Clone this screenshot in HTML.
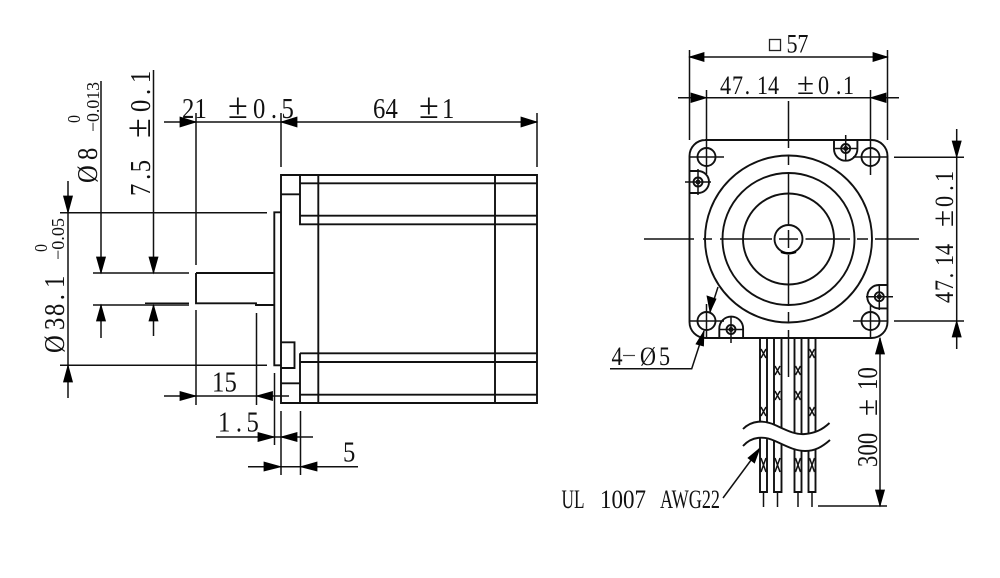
<!DOCTYPE html>
<html><head><meta charset="utf-8"><style>
html,body{margin:0;padding:0;background:#fff;width:1000px;height:578px;overflow:hidden}
svg{display:block}
text{font-family:"Liberation Serif","Noto Serif CJK SC",serif;fill:#111;stroke:none}
.t{font-size:29px}.m{font-size:26px}.s{font-size:18px}.p{font-size:36px}.pm{font-size:31px}
.b{fill:none;stroke:#111;stroke-width:1.9}
.d{fill:none;stroke:#111;stroke-width:1.5}
.a{fill:#000;stroke:#000;stroke-width:.8}
</style></head><body>
<svg width="1000" height="578" viewBox="0 0 1000 578" xmlns="http://www.w3.org/2000/svg">
<rect width="1000" height="578" fill="#fff"/>
<!-- side view body -->
<path class="b" d="M281 175H537V403H281ZM300 175V224.300H537M300 183.300H537M300 215.700H537M318.300 175V403M495 175V403M300 353.300H537M300 362H537M300 394.700H537M300 353.300V403M281 194.300H300M281 383.300H300M281 212.300H274.300V365.300H281M281 342.300H294.500V368H281"/>
<path class="b" d="M196 273H274.300M196 273V303.300H256V305H274.300"/>
<!-- side view dims -->
<path class="d" d="M164 122H537M281 113V167M537 113V167M196 113V265M196 310V405M60 212.700H267M60 365.300H267M68 181V398M101 81V273M101 305V338M153.500 70V273M153.500 305V336M93 273H189M93 305H189M145 303.300H189M164 396H289M256.500 313V405M216 437H313M274.500 373V445M281 411V475M300.500 411V475M248 466.700H358"/>
<polygon class="a" points="196,122 180,117 180,127"/><polygon class="a" points="281,122 297,117 297,127"/><polygon class="a" points="537,122 521,117 521,127"/>
<polygon class="a" points="68,212.700 63.500,196 72.500,196"/><polygon class="a" points="68,365.300 63.500,382 72.500,382"/>
<polygon class="a" points="101,273 96.500,257 105.500,257"/><polygon class="a" points="153.500,273 149,257 158,257"/>
<polygon class="a" points="101,305 96.500,321 105.500,321"/><polygon class="a" points="153.500,305 149,321 158,321"/>
<polygon class="a" points="196,396 180,391.500 180,400.500"/><polygon class="a" points="256.500,396 272.500,391.500 272.500,400.500"/>
<polygon class="a" points="274.500,437 258,432.500 258,441.500"/><polygon class="a" points="281,437 297,432.500 297,441.500"/>
<polygon class="a" points="281,466.700 264,462 264,471"/><polygon class="a" points="300.500,466.700 317,462 317,471"/>
<!-- side texts -->
<text class="t" transform="translate(182,118) scale(.85,1)" x="0 14.700">21</text>
<text class="p" x="228" y="118">±</text>
<text class="t" transform="translate(253,118) scale(.85,1)" x="0 21 33.500">0.5</text>
<text class="t" transform="translate(373,118) scale(.85,1)" x="0 14.700">64</text>
<text class="p" x="419" y="118">±</text>
<text class="t" transform="translate(442,118) scale(.85,1)">1</text>
<text class="t" transform="translate(212,391.700) scale(.85,1)" x="0 14.700">15</text>
<text class="t" transform="translate(218,431.700) scale(.85,1)" x="0 21 33.500">1.5</text>
<text class="t" transform="translate(343,461.700) scale(.85,1)">5</text>
<text class="t" transform="translate(150,196) rotate(-90) scale(.85,1)" x="0 19 28">7.5</text>
<text class="p" transform="translate(150,196) rotate(-90)" x="58">±</text>
<text class="t" transform="translate(150,112) rotate(-90) scale(.85,1)" x="0 20 34">0.1</text>
<text class="t" transform="translate(97,183) rotate(-90) scale(.85,1)">Ø</text>
<text class="t" transform="translate(97,160) rotate(-90) scale(.85,1)">8</text>
<text class="s" transform="translate(80,123) rotate(-90)" textLength="8" lengthAdjust="spacingAndGlyphs">0</text>
<text class="s" transform="translate(99,132) rotate(-90)" textLength="50" lengthAdjust="spacingAndGlyphs">−0.013</text>
<text class="t" transform="translate(64,353) rotate(-90) scale(.85,1)">Ø</text>
<text class="t" transform="translate(64,330) rotate(-90) scale(.85,1)" x="0 16.500 35 49.400">38.1</text>
<text class="s" transform="translate(47,252) rotate(-90)" textLength="8" lengthAdjust="spacingAndGlyphs">0</text>
<text class="s" transform="translate(64,260) rotate(-90)" textLength="42" lengthAdjust="spacingAndGlyphs">−0.05</text>
<!-- front view -->
<path class="b" d="M705 140H871.500A16 16 0 0 1 887.500 156V322A16 16 0 0 1 871.500 338H705.500A16 16 0 0 1 689.500 322V156A16 16 0 0 1 705.500 140Z"/>
<circle class="b" cx="788.500" cy="239" r="83.500"/><circle class="b" cx="788.500" cy="239" r="66"/><circle class="b" cx="788.500" cy="239" r="45.500"/><circle class="b" cx="788.500" cy="239" r="14"/>
<path d="M781 252Q788.500 255 796 252" fill="none" stroke="#000" stroke-width="2.200"/>
<path class="d" d="M644 239H694M703 239H712M720 239H772M779 239H798M805.500 239H850M857 239H868M875 239H919M788.500 101V148M788.500 156V165M788.500 172V224M788.500 230V248M788.500 255V305M788.500 312V323M788.500 330V377"/>
<circle class="b" cx="706.500" cy="157" r="9"/><circle class="b" cx="870.500" cy="157" r="9"/><circle class="b" cx="706.500" cy="321" r="9"/><circle class="b" cx="870.500" cy="321" r="9"/>
<path class="d" d="M689.500 157H724M706.500 134V174M853 157H887.500M870.500 134V175M689.500 321H724M706.500 304V338M853 321H887.500M870.500 304V338"/>
<!-- mount ears -->
<path class="b" d="M834 140V149A11.700 11.700 0 0 0 857.400 149V140"/><circle class="b" cx="845.700" cy="148.500" r="4.500"/><circle class="d" cx="845.700" cy="148.500" r="1.800"/>
<path class="d" d="M845.700 135V161M835 148.500H857"/>
<path class="b" d="M689.500 171H698A11 11 0 0 1 698 193H689.500"/><circle class="b" cx="698" cy="182" r="4.500"/><circle class="d" cx="698" cy="182" r="1.800"/>
<path class="d" d="M685 182H711M698 169V195"/>
<path class="b" d="M887.500 285H879A11.700 11.700 0 0 0 879 308.400H887.500"/><circle class="b" cx="879.300" cy="296.700" r="4.500"/><circle class="d" cx="879.300" cy="296.700" r="1.800"/>
<path class="d" d="M866 296.700H893M879.300 284V310"/>
<path class="b" d="M719.300 338V328.500A11.900 11.900 0 0 1 743.100 328.500V338"/><circle class="b" cx="731" cy="329.500" r="4.500"/><circle class="d" cx="731" cy="329.500" r="1.800"/>
<path class="d" d="M731 316V343M719 329.500H744"/>
<!-- front dims -->
<path class="d" d="M689.500 50V140M887.500 50V140M689.500 57H887.500M678 97.700H899M706.500 90V134M870.500 90V134M894 157.300H964M894 321H964M956.700 129V349M880 338V506M818 506H887"/>
<polygon class="a" points="689.500,57 704,52.500 704,61.500"/><polygon class="a" points="887.500,57 873,52.500 873,61.500"/>
<polygon class="a" points="706.500,97.700 691,93 691,102.500"/><polygon class="a" points="870.500,97.700 886,93 886,102.500"/>
<polygon class="a" points="956.700,157.300 952.200,141 961.200,141"/><polygon class="a" points="956.700,321 952.200,337 961.200,337"/>
<polygon class="a" points="880,338 875.500,354 884.500,354"/><polygon class="a" points="880,506 875.500,490 884.500,490"/>
<rect x="769.500" y="39.500" width="11" height="11" fill="none" stroke="#222" stroke-width="1.300"/>
<text class="m" transform="translate(786.500,52.700) scale(.85,1)" x="0 12.800">57</text>
<text class="m" transform="translate(720,94) scale(.85,1)" x="0 14.100 29 43.500 56.500">47.14</text>
<text class="pm" x="797" y="94">±</text>
<text class="m" transform="translate(818,94) scale(.85,1)" x="0 21 29.400">0.1</text>
<text class="m" transform="translate(953,303) rotate(-90) scale(.85,1)" x="0 14.100 29 43.500 56.500">47.14</text>
<text class="pm" transform="translate(953,303) rotate(-90)" x="76">±</text>
<text class="m" transform="translate(953,207) rotate(-90) scale(.85,1)" x="0 19 29.400">0.1</text>
<text class="t" transform="translate(877,467) rotate(-90) scale(.78,1)" x="0 14.700 29.400">300</text>
<text class="pm" transform="translate(877,467) rotate(-90)" x="51">±</text>
<text class="t" transform="translate(877,390) rotate(-90) scale(.78,1)" x="0 14.700">10</text>
<!-- leaders -->
<path class="d" d="M610 368.700H691.700L704 331M718 287L710 312"/>
<polygon class="a" points="704,331 696,344 703.500,346"/><polygon class="a" points="710,312 707,296 716,299"/>
<text class="m" transform="translate(611.500,365) scale(.85,1)">4</text><path d="M623 355.500H635" stroke="#444" stroke-width="1.200"/>
<text class="m" transform="translate(640,365) scale(.85,1)">Ø</text><text class="m" transform="translate(659,365) scale(.85,1)">5</text>
<path class="d" d="M723 498L760 448"/><polygon class="a" points="760,448 748,458 754.500,463"/>
<text class="m" x="561.500" y="508" textLength="23" lengthAdjust="spacingAndGlyphs">UL</text>
<text class="m" x="600" y="508" textLength="46" lengthAdjust="spacingAndGlyphs">1007</text>
<text class="m" x="660" y="508" textLength="60" lengthAdjust="spacingAndGlyphs">AWG22</text>
<!-- wires -->
<path class="b" d="M760 338V492H767V338M774 338V492H781.500V338M794.500 338V492H801.500V338M808.500 338V492H815.500V338"/>
<path class="d" d="M763.500 492V507M777.500 492V507M798 492V507M812 492V507"/>
<path class="d" d="M761 349L766 358M766 349L761 358M761 407L766 416M766 407L761 416M809.500 349L814.500 358M814.500 349L809.500 358M809.500 407L814.500 416M814.500 407L809.500 416M775 366L780 375M780 366L775 375M775 391L780 400M780 391L775 400M795.500 366L800.500 375M800.500 366L795.500 375M795.500 391L800.500 400M800.500 391L795.500 400M761 458L766 472M766 458L761 472M775 458L780 472M780 458L775 472M795.500 458L800.500 472M800.500 458L795.500 472M809.500 458L814.500 472M814.500 458L809.500 472"/>
<path fill="#fff" stroke="none" d="M743 429C752 420 764 420 775 425S795 435 805 434S822 430 829.500 423V440C822 447 815 451 805 451S785 444 775 441S752 436 743 446Z"/>
<path class="b" d="M743 429C752 420 764 420 775 425S795 435 805 434S822 430 829.500 423M743 446C752 436 764 436 775 441S795 451 805 451S822 447 830 440"/>
</svg>
</body></html>
